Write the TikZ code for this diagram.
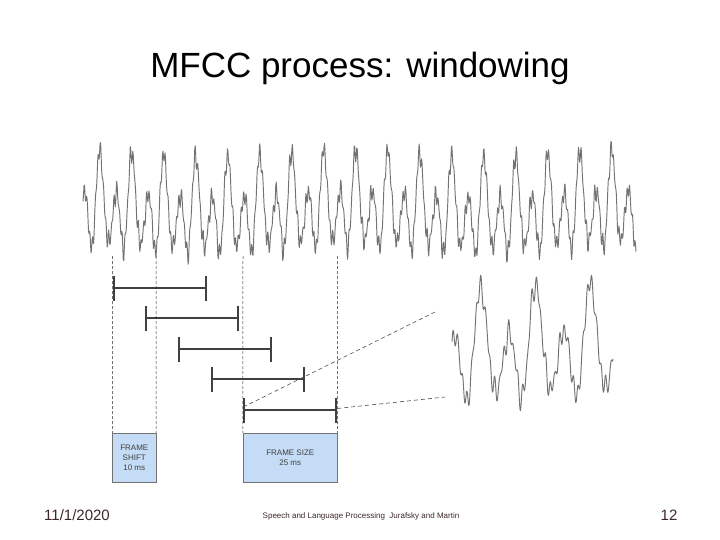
\documentclass[tikz,border=0pt]{standalone}
\usepackage{fontspec}
\setmainfont{Liberation Sans}
\usetikzlibrary{arrows.meta}
\definecolor{boxblue}{RGB}{196,220,245}
\definecolor{footcol}{RGB}{60,40,40}
\tikzstyle{wave} = [draw, black!55, line width=0.95pt, line join=round]
\tikzstyle{framebar} = [draw, black!75, line width=2pt, {Bar[width=25pt,line width=2pt]}-{Bar[width=25pt,line width=2pt]}]
\tikzstyle{guide} = [draw, black!85, line width=0.5pt, dash pattern=on 3pt off 2pt]
\tikzstyle{zoomline} = [draw, black!70, line width=0.6pt, dash pattern=on 4pt off 3pt]
\tikzstyle{infobox} = [draw=black!55, fill=boxblue, minimum height=49pt, inner sep=0pt, align=center, text=black!75, font=\fontsize{8}{10}\selectfont]
\tikzstyle{footer} = [text=footcol, inner sep=0pt]

\begin{document}
\begin{tikzpicture}[x=1pt, y=-1pt,
  declare function={sig(\t)=14*sin(mod(\t,32)*11.25+45)+27*sin(mod(\t,32)*22.5)+3*sin(mod(\t,32)*33.75+20)
     +7*sin(mod(\t,2.7)*133.33)*(0.3+0.7*abs(sin(mod(\t,32)*22.5+20)))+2.5*sin(mod(\t,4.3)*83.72)+2.5*sin(\t*1.3);}]

    \useasboundingbox (0,0) rectangle (720,540);

    \node (title) at (360,68) {\fontsize{35}{40}\selectfont MFCC process: windowing};

    % speech signal
    \draw[wave] plot[domain=83:636, samples=1100] (\x, {210 - 1.35*sig(\x)});

    % frames, shifted by 10 ms
    \foreach \i/\y in {0/288,1/318,2/349,3/379,4/410} {
        \coordinate (l\i) at (112.5+32.7*\i, \y);
        \coordinate (r\i) at (206.5+32.7*\i, \y);
        \draw[framebar] (l\i) -- (r\i);
    }

    \node[infobox, minimum width=43.5pt] (shift) at (134.25,457.5) {FRAME\\SHIFT\\10 ms};
    \node[infobox, minimum width=94.5pt] (size) at (290.25,457.5) {FRAME SIZE\\25 ms};

    \coordinate (g1) at (112.5,256);
    \coordinate (g2) at (156,256);
    \coordinate (g3) at (243,256);
    \coordinate (g4) at (337.5,256);
    \draw[guide] (g1) -- (shift.north west);
    \draw[guide] (g2) -- (shift.north east);
    \draw[guide] (g3) -- (size.north west);
    \draw[guide] (g4) -- (size.north east);

    % magnified frame
    \draw[wave] plot[domain=243:337, samples=450] ({452+(\x-243)*1.713}, {352 - 1.55*sig(\x)});
    \coordinate (zoomtop) at (435,312);
    \coordinate (zoombot) at (445,397);
    \draw[zoomline] ([yshift=3pt]l4) -- (zoomtop);
    \draw[zoomline] ([yshift=1.5pt]r4) -- (zoombot);

    \node[footer, font=\fontsize{15}{18}\selectfont] (date) at (77,515) {11/1/2020};
    \node[footer, font=\fontsize{8}{10}\selectfont] (credit) at (361,516) {Speech and Language Processing \ Jurafsky and Martin};
    \node[footer, font=\fontsize{15}{18}\selectfont] (page) at (669,515) {12};

\end{tikzpicture}
\end{document}
